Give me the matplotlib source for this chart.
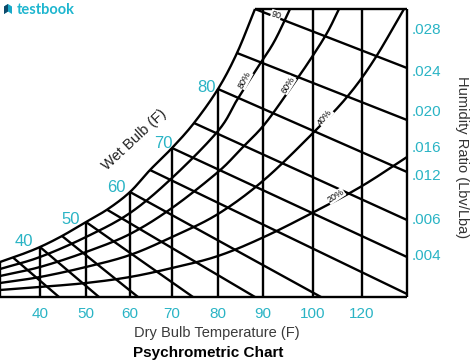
import numpy as np
import matplotlib
matplotlib.use("Agg")
import matplotlib.pyplot as plt
from matplotlib.patches import Polygon

# ---------------- data (schematic chart units: x = position along dry-bulb axis,
# y = height above the chart floor, both read from the reference picture) -------------
db_pos = [40, 86, 130, 172, 218, 263, 313, 362]
db_labels = ["40", "50", "60", "70", "80", "90", "100", "120"]

hr_pos = [268, 227, 186, 151, 123, 78, 42]
hr_labels = [".028", ".024", ".020", ".016", ".012", ".006", ".004"]

# saturation (100 %) curve
sat_x = [0, 20, 40, 62, 86, 108, 130, 150, 172, 194, 218, 237, 255]
sat_y = [35, 42, 50, 61, 75, 88, 105, 127, 149, 174, 208, 244, 288]

# relative-humidity curves
rh80_x = [0, 40, 86, 130, 172, 218, 237, 256, 274, 290]
rh80_y = [28, 40, 60, 84, 119, 166, 197, 227, 255, 288]
rh60_x = [0, 40, 86, 130, 172, 218, 240, 264, 288, 310, 327, 339]
rh60_y = [21, 30, 45, 63, 89, 125, 147, 172, 205, 237, 264, 288]
rh40_x = [0, 40, 86, 130, 172, 218, 264, 314, 347, 374, 404]
rh40_y = [14, 20, 30, 42, 60, 83, 117, 165, 200, 237, 288]
rh20_x = [0, 40, 86, 130, 172, 218, 264, 314, 362, 407]
rh20_y = [7, 10, 14, 20, 29, 41, 60, 85, 111, 140]

# wet-bulb lines: start on saturation curve (x), end point (x, y)
wb_start_x = [13, 40, 62, 86, 107, 130, 150, 172, 194, 218, 237, 255]
wb_end_x = [59, 99, 138, 193, 255, 321, 407, 407, 407, 407, 407, 407]
wb_end_y = [0, 0, 0, 0, 0, 0, 3, 40, 77, 125, 177, 229]

# wet-bulb labels
wb_labels = ["40", "50", "60", "70", "80"]
wb_label_x = [24, 71, 116, 163, 207]
wb_label_y = [55, 78, 110, 153, 210]

rh_labels = ["80%", "60%", "40%", "20%", "90"]
rh_label_x = [245, 288, 325, 336, 276]
rh_label_y = [217, 212, 180, 101, 282]
rh_label_rot = [62, 58, 50, 33, -18]

CYAN = "#2ab4c5"
W, H = 474, 362

plt.rcParams["font.family"] = ["Liberation Sans", "DejaVu Sans"]

fig = plt.figure(figsize=(W / 100, H / 100), dpi=100)
ax = fig.add_axes([0 / W, 1 - 297 / H, 407 / W, 288 / H])
ax.set_xlim(0, 407)
ax.set_ylim(0, 288)
for s in ax.spines.values():
    s.set_visible(False)


def smooth(xs, ys, n=24):
    P = np.column_stack([xs, ys]).astype(float)
    P = np.vstack([2 * P[0] - P[1], P, 2 * P[-1] - P[-2]])
    out = []
    t = np.linspace(0, 1, n, endpoint=False)[:, None]
    for i in range(1, len(P) - 2):
        p0, p1, p2, p3 = P[i - 1], P[i], P[i + 1], P[i + 2]
        out.append(0.5 * ((2 * p1) + (-p0 + p2) * t
                          + (2 * p0 - 5 * p1 + 4 * p2 - p3) * t ** 2
                          + (-p0 + 3 * p1 - 3 * p2 + p3) * t ** 3))
    out.append(P[-2][None, :])
    return np.vstack(out)


LW = 1.7
kw = dict(color="black", lw=LW, solid_capstyle="butt", clip_on=False)

sat = smooth(sat_x, sat_y)
ax.plot(sat[:, 0], sat[:, 1], **kw)

for xs, ys in [(rh80_x, rh80_y), (rh60_x, rh60_y), (rh40_x, rh40_y), (rh20_x, rh20_y)]:
    c = smooth(xs, ys)
    ax.plot(c[:, 0], c[:, 1], **kw)

# frame
ax.plot([0, 407], [0, 0], **kw)
ax.plot([407, 407], [0, 288], **kw)
ax.plot([sat_x[-1], 407], [288, 288], **kw)
ax.plot([0, 0], [0, sat_y[0]], **kw)

# dry-bulb verticals
for x in db_pos:
    top = 288 if x >= sat_x[-1] else np.interp(x, sat[:, 0], sat[:, 1])
    ax.plot([x, x], [0, top], **kw)

# wet-bulb lines
for xs, xe, ye in zip(wb_start_x, wb_end_x, wb_end_y):
    ys = np.interp(xs, sat[:, 0], sat[:, 1])
    ax.plot([xs, xe], [ys, ye], **kw)

# ticks
ax.set_xticks(db_pos, db_labels)
ax.tick_params(axis="x", length=0, pad=7, labelcolor=CYAN, labelsize=11)
ax.yaxis.tick_right()
ax.set_yticks(hr_pos, hr_labels)
ax.tick_params(axis="y", length=0, pad=3, labelcolor=CYAN, labelsize=11)

for s, x, y in zip(wb_labels, wb_label_x, wb_label_y):
    ax.text(x, y, s, color=CYAN, fontsize=12, ha="center", va="center")

for s, x, y, r in zip(rh_labels, rh_label_x, rh_label_y, rh_label_rot):
    ax.text(x, y, s, color="black", fontsize=6.5, ha="center", va="center",
            rotation=r, rotation_mode="anchor",
            bbox=dict(facecolor="white", edgecolor="none", pad=0.2))


def ptext(px, py, s, **k):
    fig.text(px / W, 1 - py / H, s, **k)


ptext(134, 140, "Wet Bulb (F)", fontsize=10.5, color="#222222", rotation=43,
      ha="center", va="center", rotation_mode="anchor")
ptext(217, 333, "Dry Bulb Temperature (F)", fontsize=10.5, color="#3a3a3a",
      ha="center", va="center")
ptext(208, 353, "Psychrometric Chart", fontsize=11, fontweight="bold",
      color="black", ha="center", va="center")
ptext(462, 157, "Humidity Ratio (Lbv/Lba)", fontsize=10.5, color="#333333",
      rotation=-90, ha="center", va="center")

# logo
ptext(17, 9.5, "testbook", fontsize=10.5, fontweight="bold", color="#1fb6cf",
      ha="left", va="center", family=["Lato", "DejaVu Sans"])
icon = [(4, 14), (4, 6.5), (8, 4), (12, 6.5), (12, 14), (8, 11.5)]
fig.add_artist(Polygon([(x / W, 1 - y / H) for x, y in icon], closed=True,
                       transform=fig.transFigure, facecolor="#1aa9c9",
                       edgecolor="none"))
fig.add_artist(Polygon([(x / W, 1 - y / H) for x, y in [(4, 14), (4, 6.5), (8, 4), (8, 11.5)]],
                       closed=True, transform=fig.transFigure,
                       facecolor="#0f4a6b", edgecolor="none"))

fig.savefig("out.png", dpi=100)
